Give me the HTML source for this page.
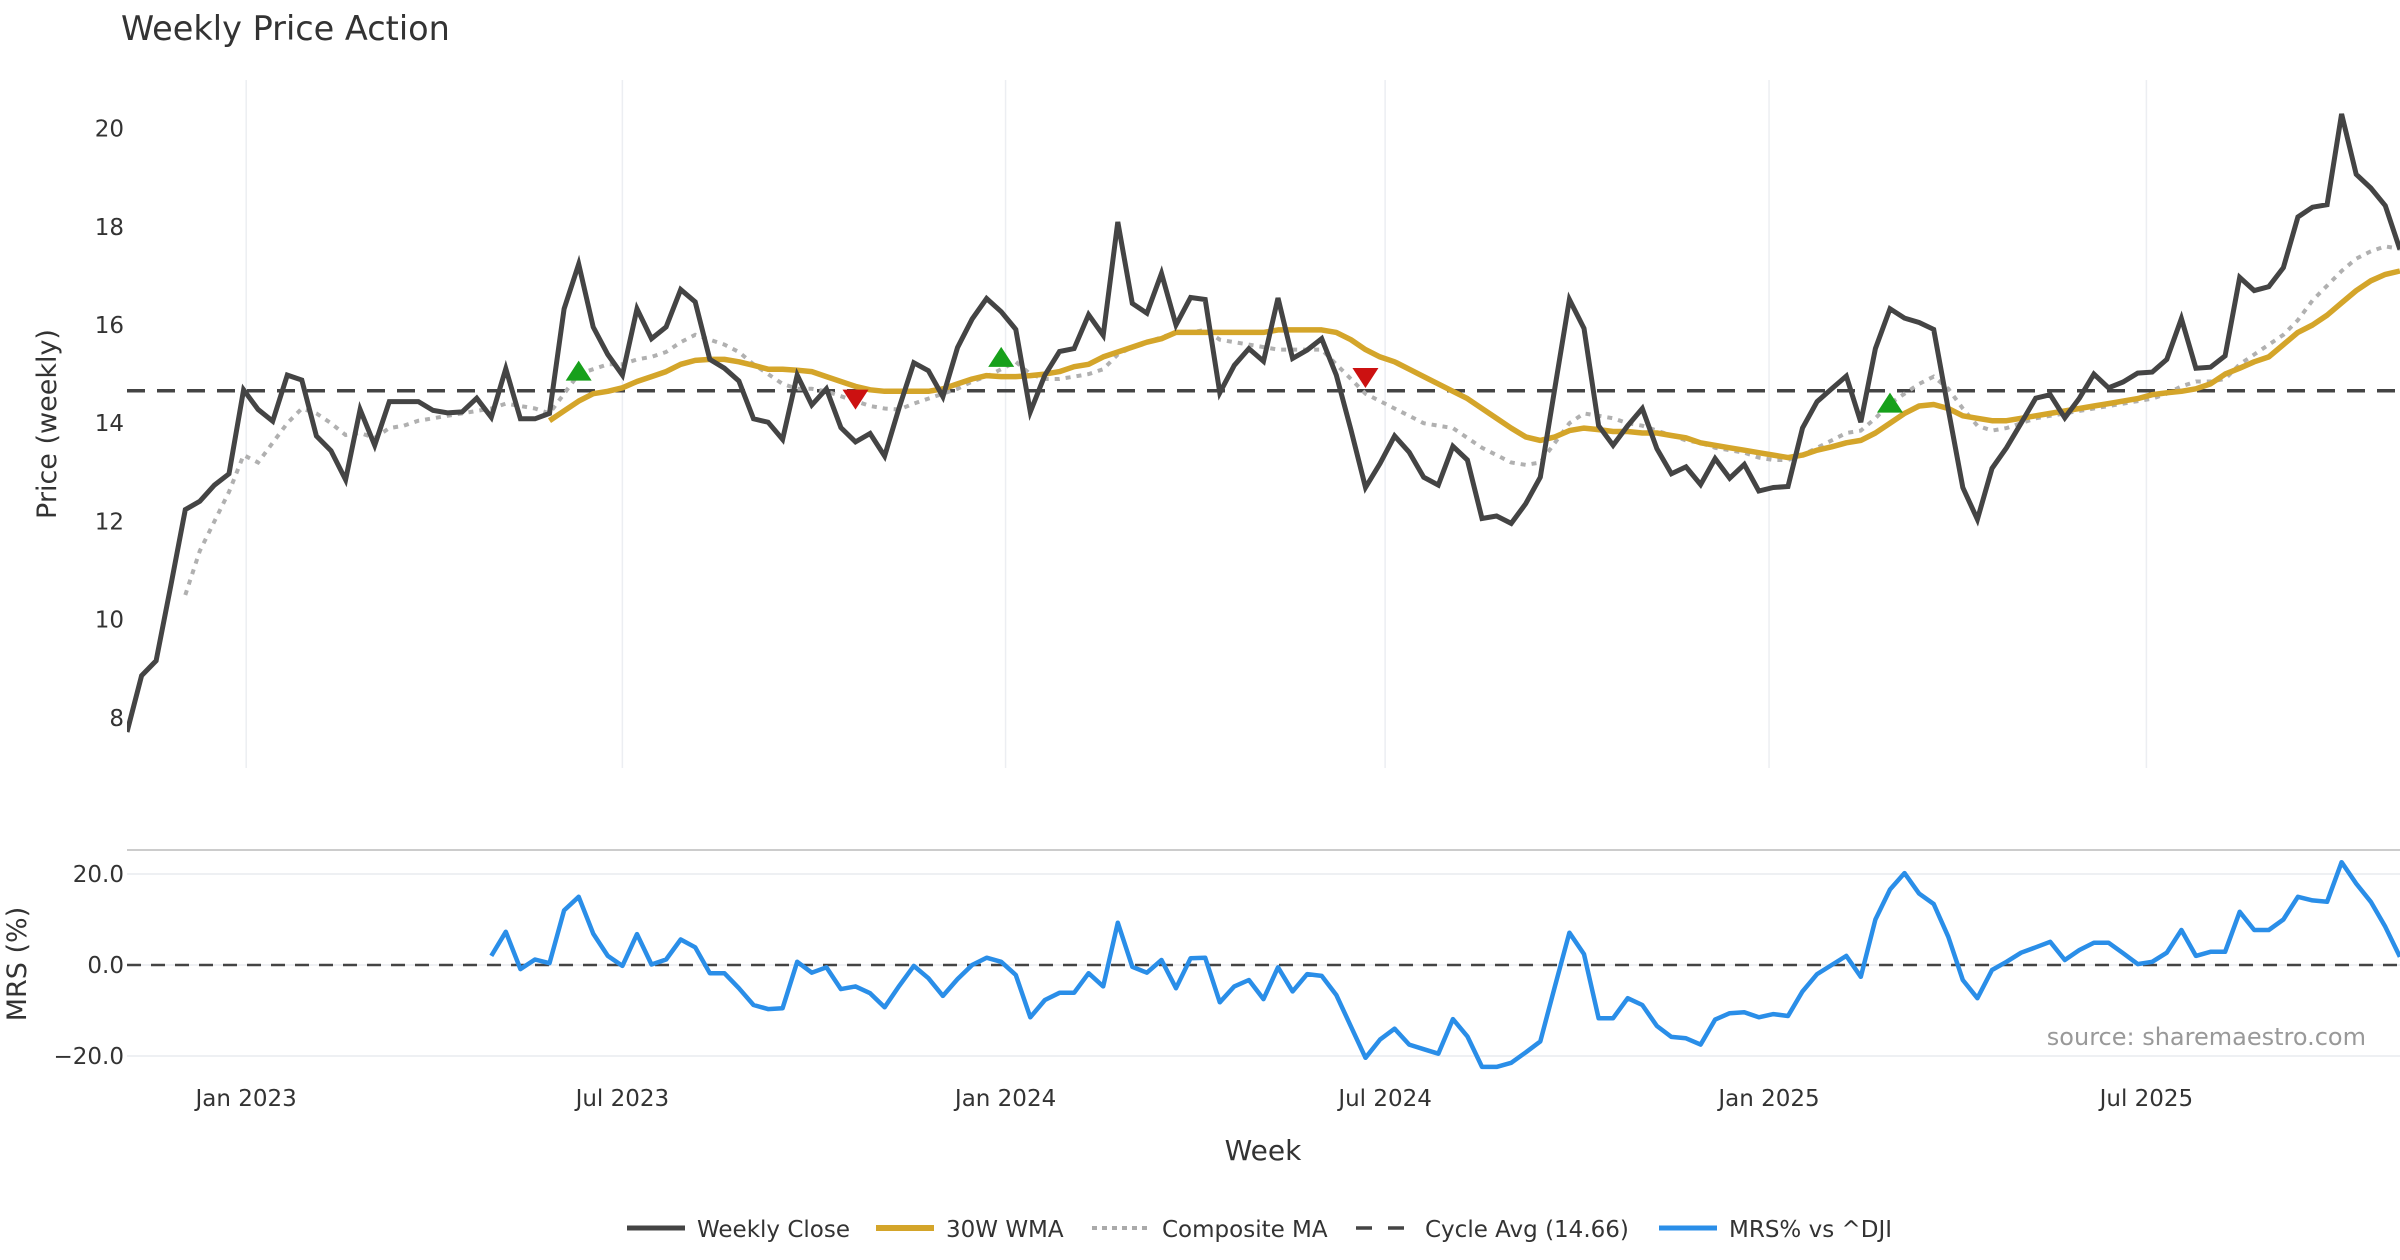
<!DOCTYPE html>
<html><head><meta charset="utf-8">
<style>
html,body{margin:0;padding:0;background:#fff;}
svg{display:block;font-family:"DejaVu Sans","Liberation Sans",sans-serif;}
</style></head>
<body>
<svg id="chart" width="2400" height="1260" viewBox="0 0 2400 1260" xmlns="http://www.w3.org/2000/svg">
<rect width="2400" height="1260" fill="#fff"/>
<text x="121" y="40" font-size="33.5" fill="#333">Weekly Price Action</text>
<g id="grid"></g>
<g id="axes"></g>
<g id="series"></g>
<text transform="translate(56,424) rotate(-90)" text-anchor="middle" font-size="27" fill="#333">Price (weekly)</text>
<text transform="translate(26,964) rotate(-90)" text-anchor="middle" font-size="27" fill="#333">MRS (%)</text>
<text x="1263" y="1160" text-anchor="middle" font-size="28" fill="#333">Week</text>
<text x="2366" y="1045" text-anchor="end" font-size="24" fill="#999">source: sharemaestro.com</text>
<g id="legend">
  <line x1="627" y1="1228" x2="685" y2="1228" stroke="#444" stroke-width="5"/>
  <text x="697" y="1237" font-size="23" fill="#333">Weekly Close</text>
  <line x1="876" y1="1228" x2="934" y2="1228" stroke="#d4a52a" stroke-width="6"/>
  <text x="946" y="1237" font-size="23" fill="#333">30W WMA</text>
  <line x1="1092" y1="1228" x2="1150" y2="1228" stroke="#aaa" stroke-width="4" stroke-dasharray="5,5"/>
  <text x="1162" y="1237" font-size="23" fill="#333">Composite MA</text>
  <line x1="1356" y1="1228" x2="1414" y2="1228" stroke="#444" stroke-width="3.5" stroke-dasharray="16,16"/>
  <text x="1425" y="1237" font-size="23" fill="#333">Cycle Avg (14.66)</text>
  <line x1="1659" y1="1228" x2="1717" y2="1228" stroke="#2a8ee8" stroke-width="5"/>
  <text x="1729" y="1237" font-size="23" fill="#333">MRS% vs ^DJI</text>
</g>
</svg>
<script>
const closeVals=[7.71,8.86,9.16,10.68,12.24,12.41,12.74,12.97,14.68,14.28,14.04,14.98,14.88,13.74,13.44,12.85,14.28,13.55,14.44,14.44,14.44,14.26,14.21,14.23,14.51,14.12,15.11,14.09,14.09,14.2,16.33,17.24,15.96,15.4,14.98,16.33,15.72,15.96,16.72,16.47,15.3,15.12,14.86,14.09,14.02,13.67,14.98,14.37,14.7,13.91,13.62,13.79,13.33,14.32,15.23,15.07,14.54,15.54,16.12,16.54,16.27,15.91,14.23,14.98,15.46,15.52,16.21,15.79,18.1,16.44,16.24,17.05,16.0,16.56,16.52,14.62,15.18,15.52,15.26,16.55,15.32,15.49,15.72,14.98,13.87,12.69,13.18,13.74,13.41,12.9,12.74,13.53,13.25,12.06,12.11,11.96,12.36,12.9,14.72,16.52,15.93,13.95,13.55,13.95,14.3,13.48,12.97,13.11,12.75,13.28,12.88,13.16,12.62,12.69,12.71,13.9,14.44,14.7,14.96,14.02,15.52,16.33,16.14,16.05,15.91,14.28,12.69,12.04,13.08,13.5,14.0,14.51,14.58,14.11,14.51,15.0,14.72,14.84,15.02,15.04,15.3,16.13,15.12,15.14,15.37,16.97,16.7,16.78,17.17,18.2,18.4,18.45,20.3,19.07,18.79,18.43,17.54];
const compositeStart=4;
const compositeVals=[10.5,11.4,12.0,12.6,13.35,13.2,13.6,14.0,14.3,14.2,14.0,13.76,13.8,13.7,13.9,13.95,14.05,14.1,14.15,14.2,14.25,14.3,14.4,14.35,14.3,14.2,14.6,15.0,15.1,15.2,15.2,15.3,15.35,15.45,15.65,15.8,15.7,15.6,15.45,15.2,15.0,14.8,14.7,14.7,14.65,14.55,14.45,14.35,14.3,14.28,14.4,14.5,14.6,14.7,14.85,14.95,15.1,15.25,15.0,14.9,14.9,14.95,15.0,15.1,15.4,15.55,15.65,15.75,15.85,15.85,15.9,15.7,15.65,15.6,15.55,15.5,15.5,15.5,15.5,15.2,14.9,14.6,14.45,14.3,14.15,14.0,13.95,13.9,13.7,13.5,13.35,13.2,13.15,13.2,13.6,14.0,14.2,14.15,14.1,14.0,13.95,13.85,13.75,13.65,13.6,13.5,13.45,13.4,13.3,13.25,13.25,13.35,13.5,13.65,13.8,13.85,14.1,14.4,14.6,14.8,14.95,14.7,14.3,13.95,13.85,13.9,14.0,14.1,14.15,14.2,14.25,14.3,14.35,14.4,14.45,14.5,14.6,14.75,14.85,14.85,14.9,15.2,15.4,15.6,15.8,16.1,16.5,16.8,17.1,17.35,17.5,17.6,17.55];
const wmaStart=29;
const wmaVals=[14.05,14.25,14.45,14.6,14.65,14.72,14.85,14.95,15.05,15.2,15.28,15.3,15.3,15.25,15.18,15.1,15.1,15.08,15.05,14.95,14.85,14.75,14.68,14.65,14.65,14.65,14.65,14.7,14.8,14.9,14.97,14.95,14.95,14.97,15.0,15.05,15.15,15.2,15.35,15.45,15.55,15.65,15.72,15.85,15.85,15.85,15.85,15.85,15.85,15.85,15.9,15.9,15.9,15.9,15.85,15.7,15.5,15.35,15.25,15.1,14.95,14.8,14.65,14.5,14.3,14.1,13.9,13.72,13.65,13.72,13.85,13.9,13.87,13.83,13.83,13.8,13.8,13.75,13.7,13.6,13.55,13.5,13.45,13.4,13.35,13.3,13.35,13.45,13.52,13.6,13.65,13.8,14.0,14.2,14.35,14.38,14.3,14.15,14.1,14.05,14.05,14.1,14.15,14.2,14.25,14.3,14.35,14.4,14.45,14.5,14.58,14.62,14.65,14.7,14.8,15.0,15.12,15.25,15.35,15.6,15.85,16.0,16.2,16.45,16.7,16.9,17.03,17.1];
const mrsStart=25;
const mrsVals=[2.0,7.3,-0.9,1.2,0.4,12.0,15.0,6.9,2.0,-0.2,6.8,0.1,1.2,5.6,3.9,-1.8,-1.8,-5.1,-8.8,-9.7,-9.5,0.7,-1.7,-0.5,-5.3,-4.7,-6.2,-9.3,-4.6,-0.2,-2.9,-6.8,-3.1,0,1.6,0.7,-2.2,-11.5,-7.7,-6.1,-6.1,-1.8,-4.7,9.3,-0.4,-1.7,1.1,-5.1,1.5,1.6,-8.2,-4.7,-3.3,-7.5,-0.5,-5.8,-2.0,-2.4,-6.6,-13.5,-20.4,-16.4,-14.0,-17.5,-18.5,-19.5,-11.9,-15.7,-22.4,-22.4,-21.5,-19.2,-16.8,-4.7,7.1,2.4,-11.7,-11.7,-7.3,-8.8,-13.4,-15.8,-16.1,-17.5,-12.0,-10.6,-10.4,-11.5,-10.8,-11.2,-5.8,-2.0,0,2.0,-2.6,10.0,16.6,20.2,15.7,13.4,6.2,-3.3,-7.3,-1.1,0.7,2.7,3.9,5.1,1.1,3.3,4.9,4.9,2.6,0.2,0.7,2.7,7.7,2.0,2.9,2.9,11.7,7.7,7.7,10.0,15.0,14.2,13.9,22.6,17.9,13.9,8.4,1.8];
const cycleAvg=14.66;
const buyIdx=[31,60,121];
const buyVals=[15.07,15.35,14.42];
const sellIdx=[50,85];
const sellVals=[14.48,14.92];
const priceTicks=[8,10,12,14,16,18,20];
const mrsTicks=[20,0,-20];
const mrsTickLabels=["20.0","0.0","\u221220.0"];
const dateTickPos=[8.18,34.0,60.3,86.35,112.7,138.6];
const dateTickLabels=["Jan 2023","Jul 2023","Jan 2024","Jul 2024","Jan 2025","Jul 2025"];

const NS="http://www.w3.org/2000/svg";
const X0=127,STEP=14.57,XR=2400;
const xs=i=>X0+i*STEP;
const yp=v=>128.6+(20-v)*49.1;
const ym=v=>965-v*4.55;
function mk(tag,attrs,parent){const e=document.createElementNS(NS,tag);for(const k in attrs)e.setAttribute(k,attrs[k]);parent.appendChild(e);return e;}
const grid=document.getElementById('grid'),axes=document.getElementById('axes'),ser=document.getElementById('series');
const defs=mk('defs',{},ser);
const cp=mk('clipPath',{id:'clipMain'},defs);mk('rect',{x:X0,y:70,width:XR-X0,height:710},cp);
const cp2=mk('clipPath',{id:'clipMrs'},defs);mk('rect',{x:X0,y:852,width:XR-X0,height:220},cp2);

dateTickPos.forEach((p,k)=>{
  const x=xs(p);
  const g=mk('line',{x1:x,y1:80,x2:x,y2:768,stroke:'#eceef2','stroke-width':1.5},grid);
  
  
  const t=mk('text',{x:x,y:1106,'text-anchor':'middle','font-size':23,fill:'#333'},axes);
  t.textContent=dateTickLabels[k];
  
  
});
priceTicks.forEach(v=>{
  const t=mk('text',{x:124,y:yp(v)+8,'text-anchor':'end','font-size':23,fill:'#333'},axes);
  t.textContent=String(v);
  
  
});
const sep=mk('line',{x1:X0,y1:850,x2:XR,y2:850,stroke:'#ccc','stroke-width':2},grid);


mrsTicks.forEach((v,k)=>{
  const l=mk('line',{x1:X0,y1:ym(v),x2:XR,y2:ym(v),stroke:'#eef0f3','stroke-width':2},grid);
  
  
  const t=mk('text',{x:124,y:ym(v)+8,'text-anchor':'end','font-size':23,fill:'#333'},axes);
  t.textContent=mrsTickLabels[k];
  
  
});
function pts(vals,start,yf){return vals.map((v,j)=>xs(start+j).toFixed(1)+','+yf(v).toFixed(1)).join(' ');}
const cyc=mk('line',{x1:X0,y1:yp(cycleAvg),x2:XR,y2:yp(cycleAvg),stroke:'#444','stroke-width':3.5,'stroke-dasharray':'18,12'},ser);


const comp=mk('polyline',{points:pts(compositeVals,compositeStart,yp),fill:'none',stroke:'#b0b0b0','stroke-width':4,'stroke-dasharray':'5,6','clip-path':'url(#clipMain)'},ser);


const wma=mk('polyline',{points:pts(wmaVals,wmaStart,yp),fill:'none',stroke:'#d4a52a','stroke-width':5.5,'stroke-linejoin':'round','clip-path':'url(#clipMain)'},ser);


const cl=mk('polyline',{points:pts(closeVals,0,yp),fill:'none',stroke:'#444','stroke-width':5,'stroke-linejoin':'miter','clip-path':'url(#clipMain)'},ser);


buyIdx.forEach((i,k)=>{
  const x=xs(i),y=yp(buyVals[k]);
  const m=mk('polygon',{points:`${x-13},${y+10} ${x+13},${y+10} ${x},${y-10}`,fill:'#17a01b'},ser);
  
  
});
sellIdx.forEach((i,k)=>{
  const x=xs(i),y=yp(sellVals[k]);
  const m=mk('polygon',{points:`${x-13},${y-10} ${x+13},${y-10} ${x},${y+10}`,fill:'#cc1111'},ser);
  
  
});
const zero=mk('line',{x1:X0,y1:ym(0),x2:XR,y2:ym(0),stroke:'#444','stroke-width':2.5,'stroke-dasharray':'14,10'},ser);


const mrs=mk('polyline',{points:pts(mrsVals,mrsStart,ym),fill:'none',stroke:'#2a8ee8','stroke-width':4.5,'stroke-linejoin':'round','clip-path':'url(#clipMrs)'},ser);


</script>
</body></html>
